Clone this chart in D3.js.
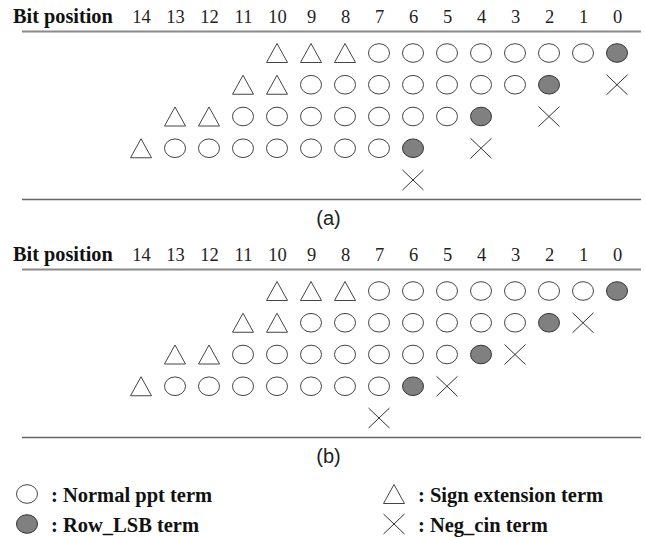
<!DOCTYPE html>
<html>
<head>
<meta charset="utf-8">
<script src="https://cdn.jsdelivr.net/npm/d3@7/dist/d3.min.js"></script>
<style>
  html, body { margin: 0; padding: 0; background: #fff; }
  svg { display: block; }
</style>
</head>
<body>
<div id="chart"></div>
<script>
// ---------- data ----------
const bits = [14, 13, 12, 11, 10, 9, 8, 7, 6, 5, 4, 3, 2, 1, 0];
const rows = [0, 1, 2, 3, 4];

// Panel (a)
const aSign   = [[10, 9, 8], [11, 10], [13, 12], [14], []];
const aNormal = [[7, 6, 5, 4, 3, 2, 1], [9, 8, 7, 6, 5, 4, 3], [11, 10, 9, 8, 7, 6, 5], [13, 12, 11, 10, 9, 8, 7], []];
const aLsb    = [[0], [2], [4], [6], []];
const aNeg    = [[], [0], [2], [4], [6]];

// Panel (b)
const bSign   = [[10, 9, 8], [11, 10], [13, 12], [14], []];
const bNormal = [[7, 6, 5, 4, 3, 2, 1], [9, 8, 7, 6, 5, 4, 3], [11, 10, 9, 8, 7, 6, 5], [13, 12, 11, 10, 9, 8, 7], []];
const bLsb    = [[0], [2], [4], [6], []];
const bNeg    = [[], [1], [3], [5], [7]];

const panelLabels = ["(a)", "(b)"];
const headerText = "Bit position";
const legendLabels = [": Normal ppt term", ": Sign extension term", ": Row_LSB term", ": Neg_cin term"];
const legendTypes  = ["normal", "sign", "lsb", "neg"];

// ---------- drawing ----------
const W = 645, H = 537;
const svg = d3.select("#chart").append("svg").attr("width", W).attr("height", H);

const serif = "'Liberation Serif', 'Times New Roman', Times, serif";
const sans  = "'Liberation Sans', Arial, Helvetica, sans-serif";

const x = d3.scaleLinear().domain([14, 0]).range([141, 617]);

function drawSymbol(g, type, cx, cy) {
  if (type === "normal") {
    g.append("ellipse").attr("cx", cx).attr("cy", cy).attr("rx", 10.5).attr("ry", 9.3)
      .attr("fill", "#fff").attr("stroke", "#444").attr("stroke-width", 1);
  } else if (type === "lsb") {
    g.append("ellipse").attr("cx", cx).attr("cy", cy).attr("rx", 10.5).attr("ry", 9.3)
      .attr("fill", "#808080").attr("stroke", "#333").attr("stroke-width", 1);
  } else if (type === "sign") {
    const w = 10.5, h = 9.5;
    g.append("path")
      .attr("d", `M${cx},${cy - h}L${cx + w},${cy + h}L${cx - w},${cy + h}Z`)
      .attr("fill", "#fff").attr("stroke", "#444").attr("stroke-width", 1);
  } else if (type === "neg") {
    const w = 10.5, h = 10;
    g.append("path")
      .attr("d", `M${cx - w},${cy - h}L${cx + w},${cy + h}M${cx + w},${cy - h}L${cx - w},${cy + h}`)
      .attr("fill", "none").attr("stroke", "#333").attr("stroke-width", 1);
  }
}

const panels = [
  { sign: aSign, normal: aNormal, lsb: aLsb, neg: aNeg, dy: 0 },
  { sign: bSign, normal: bNormal, lsb: bLsb, neg: bNeg, dy: 238 }
];

panels.forEach((p, i) => {
  const g = svg.append("g").attr("transform", `translate(0,${p.dy})`);
  const y = d3.scalePoint().domain(rows).range([53, 180]);

  // header text
  g.append("text").attr("x", 13).attr("y", 23)
    .attr("font-family", serif).attr("font-weight", "bold").attr("font-size", 20.3)
    .attr("fill", "#111").text(headerText);

  // bit position axis
  const axis = d3.axisTop(x).tickValues(bits).tickSize(0).tickPadding(0).tickFormat(d3.format("d"));
  const ax = g.append("g").attr("transform", "translate(0,23)").call(axis);
  ax.select(".domain").remove();
  ax.selectAll("text").attr("font-family", serif).attr("font-size", 18.5).attr("fill", "#222");

  // rules
  g.append("line").attr("x1", 22).attr("x2", 641).attr("y1", 31.5).attr("y2", 31.5)
    .attr("stroke", "#8a8a8a").attr("stroke-width", 2);
  g.append("line").attr("x1", 22).attr("x2", 641).attr("y1", 199.5).attr("y2", 199.5)
    .attr("stroke", "#666").attr("stroke-width", 1.5);

  // marks
  const marks = g.append("g");
  rows.forEach(r => {
    p.sign[r].forEach(b => drawSymbol(marks, "sign", x(b), y(r)));
    p.normal[r].forEach(b => drawSymbol(marks, "normal", x(b), y(r)));
    p.lsb[r].forEach(b => drawSymbol(marks, "lsb", x(b), y(r)));
    p.neg[r].forEach(b => drawSymbol(marks, "neg", x(b), y(r)));
  });

  // panel label
  g.append("text").attr("x", 328.5).attr("y", 224.5).attr("text-anchor", "middle")
    .attr("font-family", sans).attr("font-size", 20).attr("fill", "#222")
    .text(panelLabels[i]);
});

// legend
const legendPos = [[27, 494], [394, 494], [27, 524], [394, 524]];
legendTypes.forEach((t, i) => {
  const [lx, ly] = legendPos[i];
  drawSymbol(svg, t, lx, ly);
  svg.append("text").attr("x", lx + 24).attr("y", ly + 8)
    .attr("font-family", serif).attr("font-weight", "bold").attr("font-size", 20.5)
    .attr("fill", "#111").text(legendLabels[i]);
});
</script>
</body>
</html>
